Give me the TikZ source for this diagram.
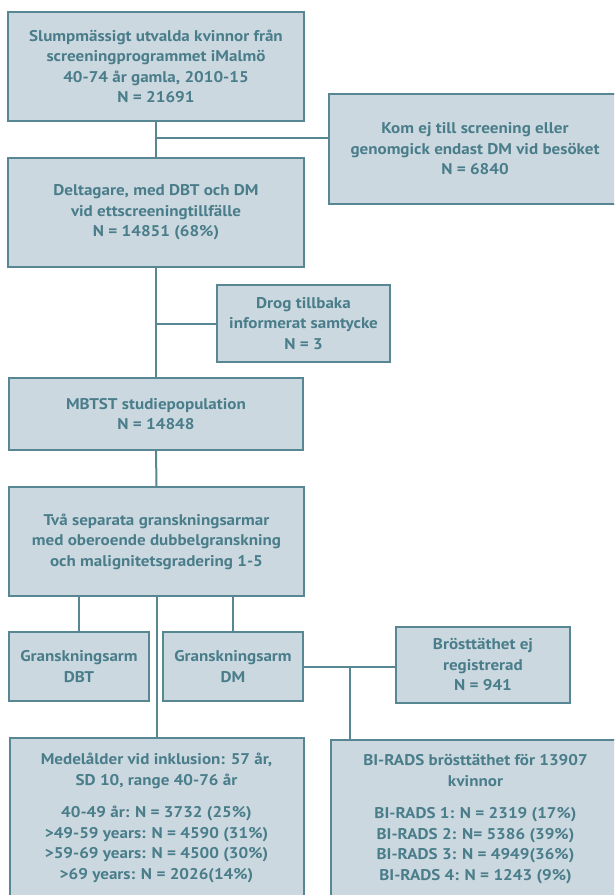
\documentclass[tikz,border=0pt]{standalone}
\usepackage{fontspec}
\setmainfont{PT Sans}[FakeStretch=1.1]
\definecolor{boxfill}{RGB}{203,216,224}
\definecolor{boxline}{RGB}{86,135,147}
\definecolor{boxtext}{RGB}{74,125,138}

\begin{document}
\begin{tikzpicture}[x=1pt,y=-1pt,
  box/.style={draw=boxline, line width=2pt, fill=boxfill, text=boxtext, align=center, inner sep=0pt,
    font=\bfseries\fontsize{15.5}{20.5}\selectfont},
  link/.style={draw=boxline, line width=2pt}]
\clip (0,0) rectangle (614,895);
% boxes
\node[box, minimum width=296, minimum height=109] (urval) at (156,66.5)
  {Slumpmässigt utvalda kvinnor från\\ screeningprogrammet iMalmö\\ 40-74 år gamla, 2010-15\\ N = 21691};
\node[box, minimum width=292, minimum height=110] (bortfall) at (475,149)
  {Kom ej till screening eller\\ genomgick endast DM vid besöket\\ N = 6840};
\node[box, minimum width=296, minimum height=109] (deltagare) at (156,212.5)
  {Deltagare, med DBT och DM\\ vid ettscreeningtillfälle\\ N = 14851 (68\%)};
\node[box, minimum width=173, minimum height=77] (drog) at (303.5,323.5)
  {Drog tillbaka\\ informerat samtycke\\ N = 3};
\node[box, minimum width=294, minimum height=72] (mbtst) at (156,414)
  {MBTST studiepopulation\\ N = 14848};
\node[box, minimum width=295, minimum height=109] (tva) at (156.5,541.5)
  {Två separata granskningsarmar\\ med oberoende dubbelgranskning\\ och malignitetsgradering 1-5};
\node[box, minimum width=140, minimum height=69] (armdbt) at (79,666.5)
  {Granskningsarm\\ DBT};
\node[box, minimum width=140, minimum height=69] (armdm) at (233,666.5)
  {Granskningsarm\\ DM};
\node[box, minimum width=174, minimum height=76] (ejreg) at (483,665)
  {Brösttäthet ej\\ registrerad\\ N = 941};
\node[box, minimum width=294, minimum height=160] (alder) at (156.5,818)
  {Medelålder vid inklusion: 57 år,\\ SD 10, range 40-76 år\\[12pt]
   40-49 år: N = 3732 (25\%)\\ >49-59 years: N = 4590 (31\%)\\
   >59-69 years: N = 4500 (30\%)\\ >69 years: N = 2026(14\%)};
\node[box, minimum width=289, minimum height=158] (birads) at (475.5,819)
  {BI-RADS brösttäthet för 13907\\ kvinnor\\[12pt]
   BI-RADS 1: N = 2319 (17\%)\\ BI-RADS 2: N= 5386 (39\%)\\
   BI-RADS 3: N = 4949(36\%)\\ BI-RADS 4: N = 1243 (9\%)};

% connectors
\coordinate (j1) at (156,138);
\coordinate (j3) at (350,667);
\draw[link] (urval.south) -- (deltagare.north);
\draw[link] (j1) -- (j1 -| bortfall.west);
\draw[link] (deltagare.south) -- (mbtst.north);
\draw[link] (drog.west) -- (drog.west -| deltagare.south);
\draw[link] (mbtst.south) -- (tva.north);
\draw[link] (armdbt.north) -- (armdbt.north |- tva.south);
\draw[link] (armdm.north) -- (armdm.north |- tva.south);
\draw[link] (tva.south) -- (alder.north);
\draw[link] (armdm.east) -- (armdm.east -| ejreg.west);
\draw[link] (j3) -- (j3 |- birads.north);
\end{tikzpicture}
\end{document}
